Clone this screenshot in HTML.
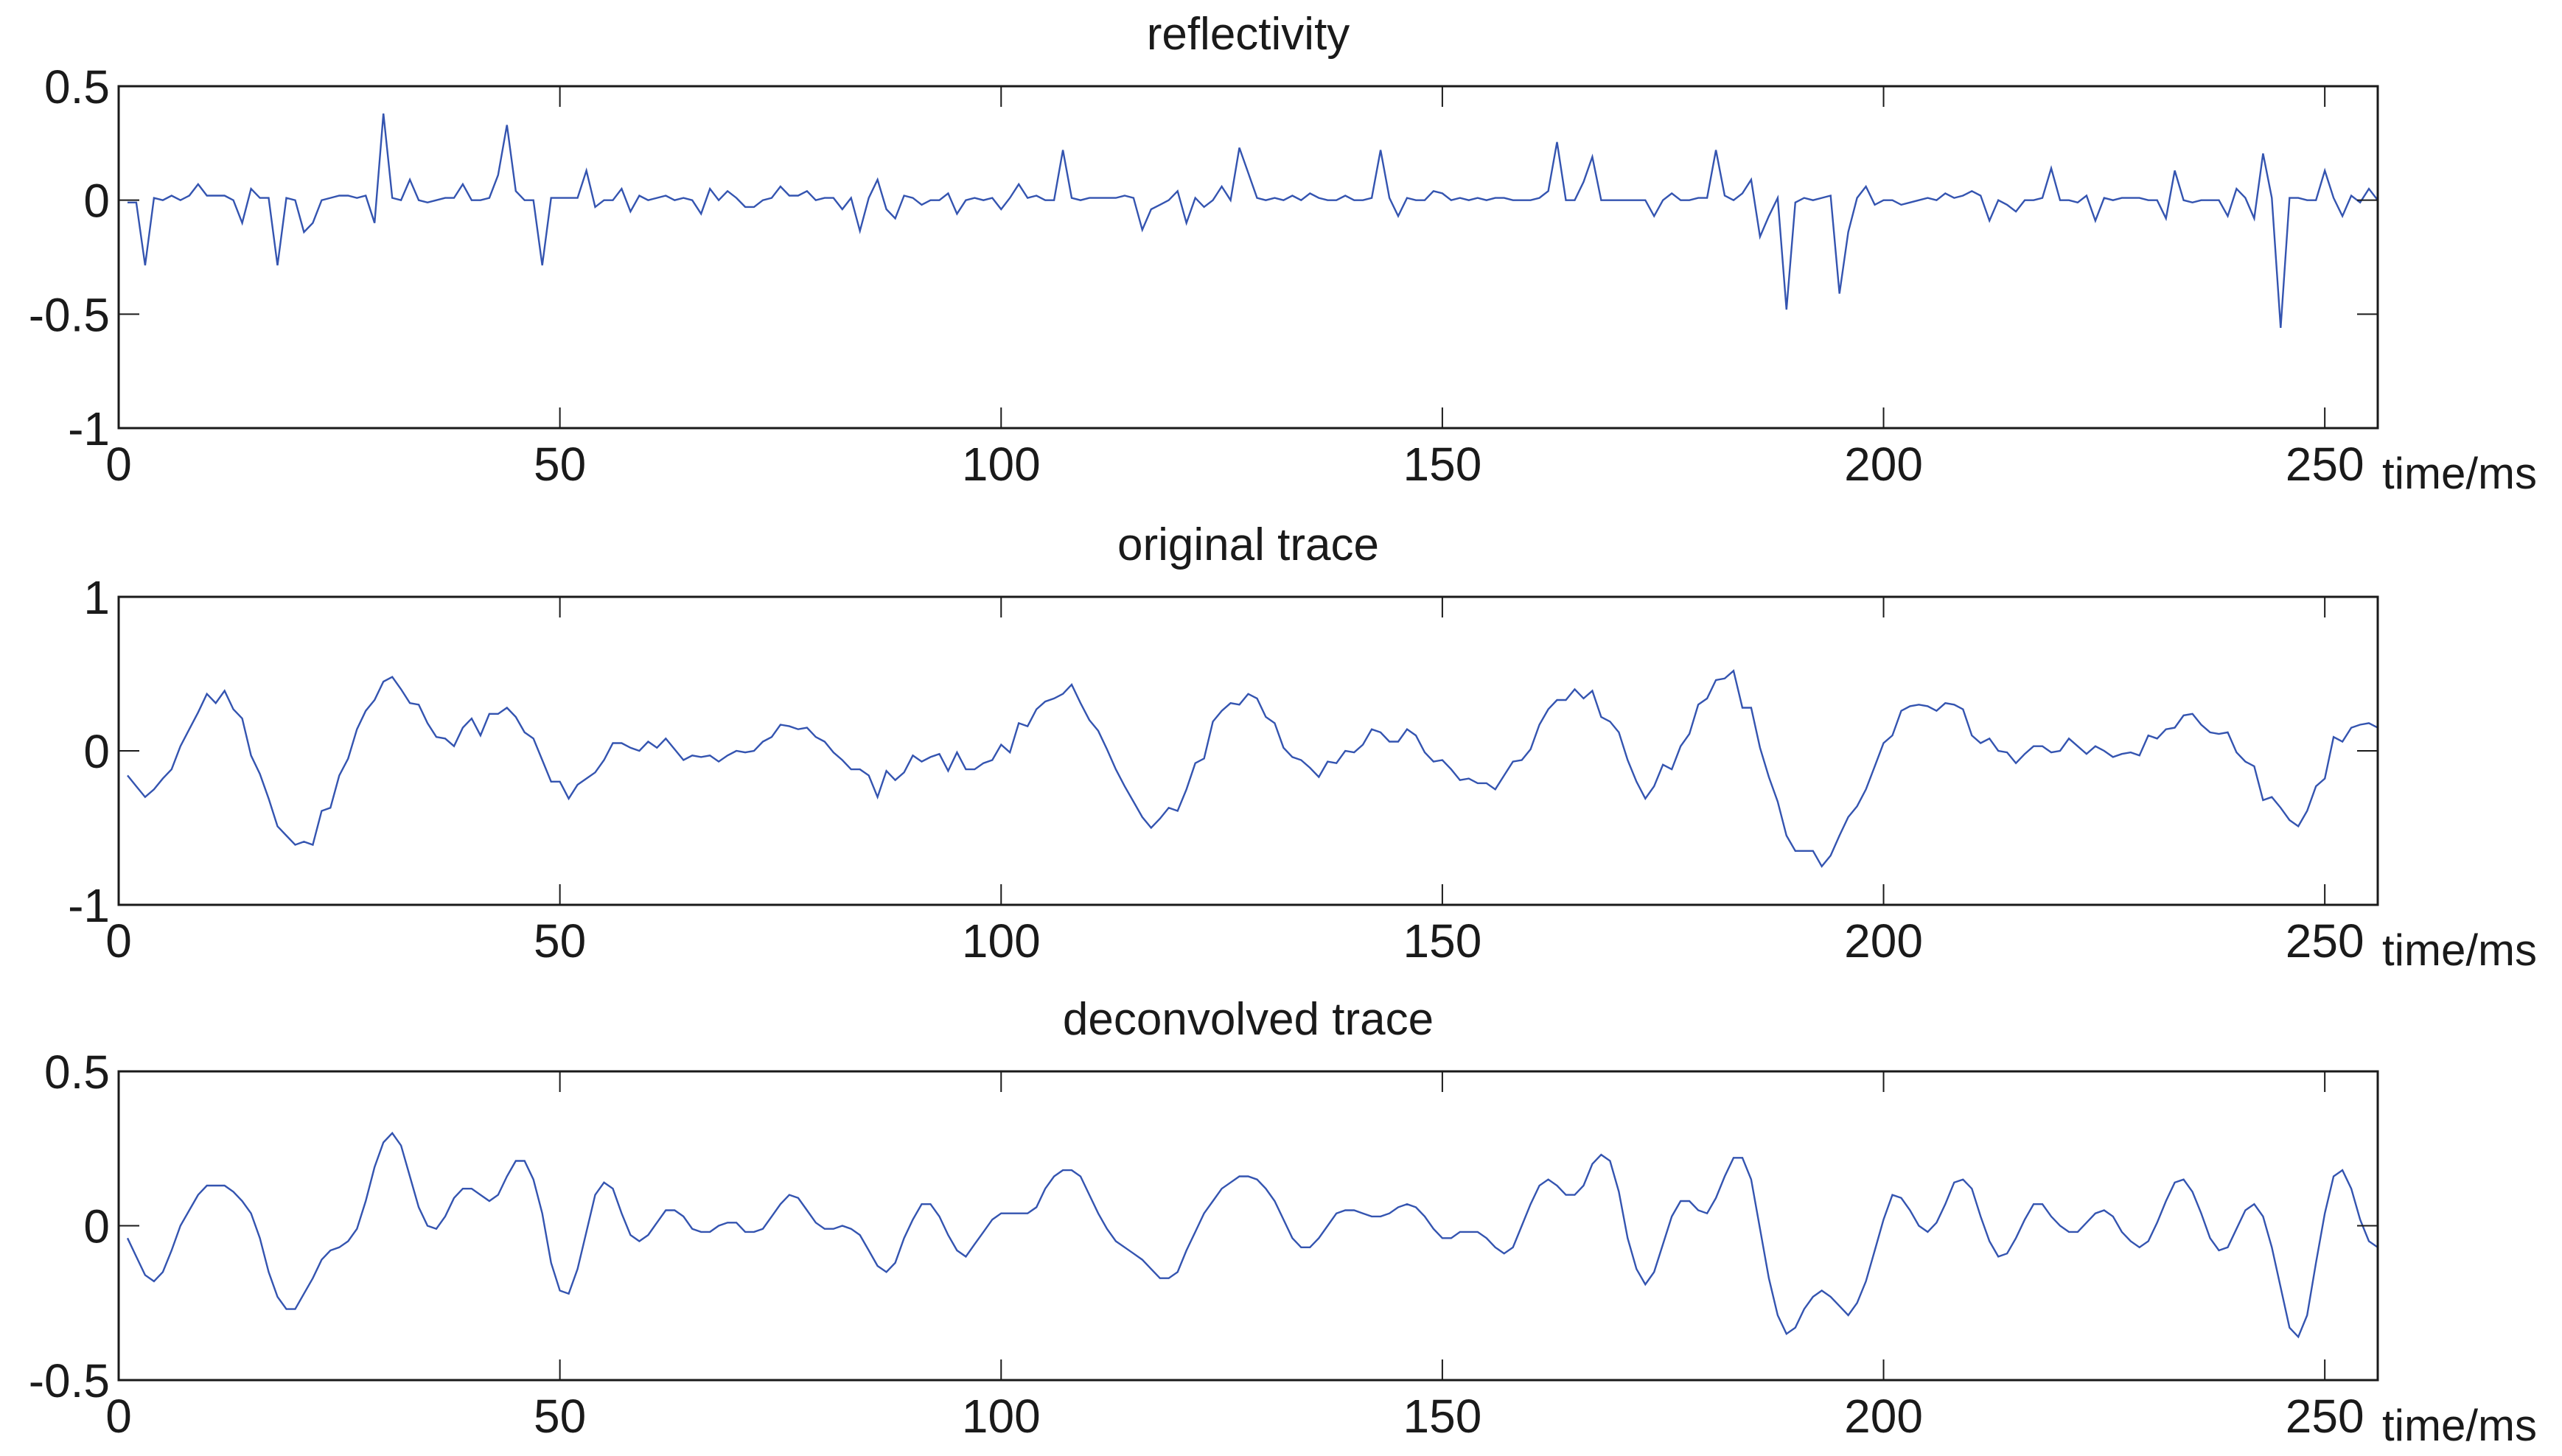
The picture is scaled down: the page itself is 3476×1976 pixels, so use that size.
<!DOCTYPE html>
<html><head><meta charset="utf-8"><style>
html,body{margin:0;padding:0;background:#fff;}
svg{display:block;}
text{font-family:"Liberation Sans",Arial,sans-serif;fill:#1a1a1a;}
</style></head>
<body>
<svg id="chart" width="3476" height="1976" viewBox="0 0 3476 1976" xmlns="http://www.w3.org/2000/svg"></svg>
<script>
const xTicks=[0,50,100,150,200,250];
const reflectivity=[-0.01,-0.01,-0.286,0.01,0.0,0.02,0.0,0.02,0.07,0.02,0.02,0.02,0.0,-0.10,0.05,0.01,0.01,-0.286,0.01,0.0,-0.14,-0.10,0.0,0.01,0.02,0.02,0.01,0.02,-0.10,0.38,0.01,0.0,0.09,0.0,-0.01,0.0,0.01,0.01,0.07,0.0,0.0,0.01,0.11,0.33,0.04,0.0,0.0,-0.286,0.01,0.01,0.01,0.01,0.13,-0.03,0.0,0.0,0.05,-0.05,0.02,0.0,0.01,0.02,0.0,0.01,0.0,-0.06,0.05,0.0,0.04,0.01,-0.03,-0.03,0.0,0.01,0.06,0.02,0.02,0.04,0.0,0.01,0.01,-0.04,0.01,-0.135,0.01,0.09,-0.04,-0.08,0.02,0.01,-0.02,0.0,0.0,0.03,-0.06,0.0,0.01,0.0,0.01,-0.04,0.01,0.07,0.01,0.02,0.0,0.0,0.22,0.01,0.0,0.01,0.01,0.01,0.01,0.02,0.01,-0.13,-0.04,-0.02,0.0,0.04,-0.10,0.01,-0.03,0.0,0.06,0.0,0.23,0.12,
0.01,0.0,0.01,0.0,0.02,0.0,0.03,0.01,0.0,0.0,0.02,0.0,0.0,0.01,0.22,0.01,-0.07,0.01,0.0,0.0,0.04,0.03,0.0,0.01,0.0,0.01,0.0,0.01,0.01,0.0,0.0,0.0,0.01,0.04,0.255,0.0,0.0,0.08,0.19,0.0,0.0,0.0,0.0,0.0,0.0,-0.07,0.0,0.03,0.0,0.0,0.01,0.01,0.22,0.02,0.0,0.03,0.09,-0.16,-0.07,0.01,-0.48,-0.01,0.01,0.0,0.01,0.02,-0.41,-0.14,0.01,0.06,-0.02,0.0,0.0,-0.02,-0.01,0.0,0.01,0.0,0.03,0.01,0.02,0.04,0.02,-0.09,0.0,-0.02,-0.05,0.0,0.0,0.01,0.14,0.0,0.0,-0.01,0.02,-0.09,0.01,0.0,0.01,0.01,0.01,0.0,0.0,-0.08,0.13,0.0,-0.01,0.0,0.0,0.0,-0.07,0.05,0.01,-0.08,0.205,0.01,-0.56,0.01,0.01,0.0,0.0,0.13,0.01,-0.07,0.02,-0.01,0.05,0.0];
const originalTrace=[-0.16,-0.23,-0.30,-0.25,-0.18,-0.12,0.03,0.14,0.25,0.37,0.31,0.39,0.27,0.21,-0.03,-0.15,-0.31,-0.49,-0.55,-0.61,-0.59,-0.61,-0.39,-0.37,-0.16,-0.05,0.14,0.26,0.33,0.45,0.48,0.40,0.31,0.30,0.18,0.09,0.08,0.03,0.15,0.21,0.10,0.24,0.24,0.28,0.22,0.12,0.08,-0.06,-0.20,-0.20,-0.31,-0.22,-0.18,-0.14,-0.06,0.05,0.05,0.02,0.0,0.06,0.02,0.08,0.01,-0.06,-0.03,-0.04,-0.03,-0.07,-0.03,0.0,-0.01,0.0,0.06,0.09,0.17,0.16,0.14,0.15,0.09,0.06,-0.01,-0.06,-0.12,-0.12,-0.16,-0.30,-0.13,-0.19,-0.14,-0.03,-0.07,-0.04,-0.02,-0.13,-0.01,-0.12,-0.12,-0.08,-0.06,0.04,-0.01,0.18,0.16,0.27,0.32,0.34,0.37,0.43,0.31,0.20,0.13,0.01,-0.12,-0.23,-0.33,-0.43,-0.50,-0.44,-0.37,-0.39,-0.25,-0.08,-0.05,0.19,0.26,0.31,0.30,0.37,0.34,
0.22,0.18,0.02,-0.04,-0.06,-0.11,-0.17,-0.07,-0.08,0.0,-0.01,0.04,0.14,0.12,0.06,0.06,0.14,0.10,-0.01,-0.07,-0.06,-0.12,-0.19,-0.18,-0.21,-0.21,-0.25,-0.16,-0.07,-0.06,0.01,0.17,0.27,0.33,0.33,0.40,0.34,0.39,0.22,0.19,0.12,-0.06,-0.20,-0.31,-0.23,-0.09,-0.12,0.03,0.11,0.30,0.34,0.46,0.47,0.52,0.28,0.28,0.02,-0.17,-0.33,-0.55,-0.65,-0.65,-0.65,-0.75,-0.68,-0.55,-0.43,-0.36,-0.25,-0.10,0.05,0.10,0.26,0.29,0.30,0.29,0.26,0.31,0.30,0.27,0.10,0.05,0.08,0.0,-0.01,-0.08,-0.02,0.03,0.03,-0.01,0.0,0.08,0.03,-0.02,0.03,0.0,-0.04,-0.02,-0.01,-0.03,0.10,0.08,0.14,0.15,0.23,0.24,0.17,0.12,0.11,0.12,-0.01,-0.07,-0.10,-0.32,-0.30,-0.37,-0.45,-0.49,-0.39,-0.23,-0.18,0.09,0.06,0.15,0.17,0.18,0.15];
const deconvolvedTrace=[-0.04,-0.10,-0.16,-0.18,-0.15,-0.08,0.0,0.05,0.10,0.13,0.13,0.13,0.11,0.08,0.04,-0.04,-0.15,-0.23,-0.27,-0.27,-0.22,-0.17,-0.11,-0.08,-0.07,-0.05,-0.01,0.08,0.19,0.27,0.30,0.26,0.16,0.06,0.0,-0.01,0.03,0.09,0.12,0.12,0.10,0.08,0.10,0.16,0.21,0.21,0.15,0.04,-0.12,-0.21,-0.22,-0.14,-0.02,0.10,0.14,0.12,0.04,-0.03,-0.05,-0.03,0.01,0.05,0.05,0.03,-0.01,-0.02,-0.02,0.0,0.01,0.01,-0.02,-0.02,-0.01,0.03,0.07,0.10,0.09,0.05,0.01,-0.01,-0.01,0.0,-0.01,-0.03,-0.08,-0.13,-0.15,-0.12,-0.04,0.02,0.07,0.07,0.03,-0.03,-0.08,-0.10,-0.06,-0.02,0.02,0.04,0.04,0.04,0.04,0.06,0.12,0.16,0.18,0.18,0.16,0.10,0.04,-0.01,-0.05,-0.07,-0.09,-0.11,-0.14,-0.17,-0.17,-0.15,-0.08,-0.02,0.04,0.08,0.12,0.14,0.16,0.16,0.15,
0.12,0.08,0.02,-0.04,-0.07,-0.07,-0.04,0.0,0.04,0.05,0.05,0.04,0.03,0.03,0.04,0.06,0.07,0.06,0.03,-0.01,-0.04,-0.04,-0.02,-0.02,-0.02,-0.04,-0.07,-0.09,-0.07,0.0,0.07,0.13,0.15,0.13,0.10,0.10,0.13,0.20,0.23,0.21,0.11,-0.04,-0.14,-0.19,-0.15,-0.06,0.03,0.08,0.08,0.05,0.04,0.09,0.16,0.22,0.22,0.15,-0.01,-0.17,-0.29,-0.35,-0.33,-0.27,-0.23,-0.21,-0.23,-0.26,-0.29,-0.25,-0.18,-0.08,0.02,0.10,0.09,0.05,0.0,-0.02,0.01,0.07,0.14,0.15,0.12,0.03,-0.05,-0.10,-0.09,-0.04,0.02,0.07,0.07,0.03,0.0,-0.02,-0.02,0.01,0.04,0.05,0.03,-0.02,-0.05,-0.07,-0.05,0.01,0.08,0.14,0.15,0.11,0.04,-0.04,-0.08,-0.07,-0.01,0.05,0.07,0.03,-0.07,-0.20,-0.33,-0.36,-0.29,-0.12,0.04,0.16,0.18,0.12,0.02,-0.05,-0.07];
const panels=[
 {name:'reflectivity',title:'reflectivity',data:reflectivity,yMin:-1,yMax:0.5,yTicks:[0.5,0,-0.5,-1],yLabels:['0.5','0','-0.5','-1'],top:117,bottom:581},
 {name:'original-trace',title:'original trace',data:originalTrace,yMin:-1,yMax:1,yTicks:[1,0,-1],yLabels:['1','0','-1'],top:810,bottom:1228},
 {name:'deconvolved-trace',title:'deconvolved trace',data:deconvolvedTrace,yMin:-0.5,yMax:0.5,yTicks:[0.5,0,-0.5],yLabels:['0.5','0','-0.5'],top:1454,bottom:1873}
];
const L=161,R=3226,XMAX=256;
const NS='http://www.w3.org/2000/svg';
const svg=document.getElementById('chart');
function mk(tag,attrs,parent){const e=document.createElementNS(NS,tag);for(const k in attrs)e.setAttribute(k,attrs[k]);(parent||svg).appendChild(e);return e;}
const xs=t=>L+(t/XMAX)*(R-L);
panels.forEach(p=>{
 const ys=v=>p.bottom-(v-p.yMin)/(p.yMax-p.yMin)*(p.bottom-p.top);
 const g=mk('g',{});
 
 
 const t=mk('text',{x:(L+R)/2,y:p.top-50,'font-size':62,'text-anchor':'middle'},g);
 t.textContent=p.title;
 
 
 // series
 let d='';
 p.data.forEach((v,i)=>{d+=(i?'L':'M')+xs(i+1).toFixed(1)+','+ys(v).toFixed(1);});
 const clip=mk('clipPath',{id:'clip-'+p.name},g);
 mk('rect',{x:L,y:p.top,width:R-L,height:p.bottom-p.top},clip);
 const path=mk('path',{d:d,fill:'none',stroke:'#3454b0','stroke-width':2.4,'stroke-linejoin':'miter','clip-path':'url(#clip-'+p.name+')'},g);
 
 
 // frame
 const box=mk('rect',{x:L,y:p.top,width:R-L,height:p.bottom-p.top,fill:'none',stroke:'#1a1a1a','stroke-width':3},g);
 
 
 // x ticks
 xTicks.forEach(v=>{
  const x=xs(v);
  mk('line',{x1:x,y1:p.bottom,x2:x,y2:p.bottom-28,stroke:'#1a1a1a','stroke-width':2},g);
  mk('line',{x1:x,y1:p.top,x2:x,y2:p.top+28,stroke:'#1a1a1a','stroke-width':2},g);
  const lb=mk('text',{x:x,y:p.bottom+71,'font-size':64,'text-anchor':'middle'},g);
  lb.textContent=String(v);
  
  
 });
 const xl=mk('text',{x:3232,y:p.bottom+82,'font-size':60},g);
 xl.textContent='time/ms';
 
 
 // y ticks
 p.yTicks.forEach((v,i)=>{
  const y=ys(v);
  mk('line',{x1:L,y1:y,x2:L+28,y2:y,stroke:'#1a1a1a','stroke-width':2},g);
  mk('line',{x1:R,y1:y,x2:R-28,y2:y,stroke:'#1a1a1a','stroke-width':2},g);
  const lb=mk('text',{x:149,y:y+23,'font-size':64,'text-anchor':'end'},g);
  lb.textContent=p.yLabels[i];
  
  
 });
});
</script>
</body></html>
